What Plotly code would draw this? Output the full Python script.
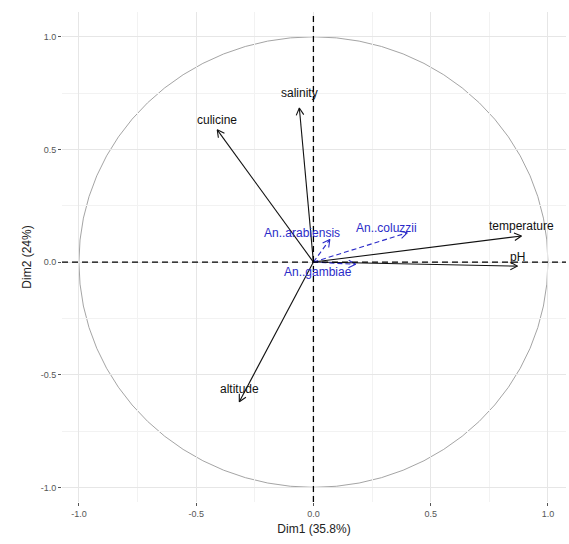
import numpy as np
import plotly.graph_objects as go

# Active variables
var_names = ["culicine", "salinity", "temperature", "pH", "altitude"]
var_dim1 = [-0.41, -0.06, 0.887, 0.87, -0.316]
var_dim2 = [0.587, 0.684, 0.116, -0.018, -0.62]

# Supplementary variables
sup_names = ["An..arabiensis", "An..coluzzii", "An..gambiae"]
sup_dim1 = [0.07, 0.40, 0.18]
sup_dim2 = [0.10, 0.13, -0.01]

x_title = "Dim1 (35.8%)"
y_title = "Dim2 (24%)"
tick_vals = [-1.0, -0.5, 0.0, 0.5, 1.0]
tick_text = ["-1.0", "-0.5", "0.0", "0.5", "1.0"]

XR = [-1.072, 1.077]
YR = [-1.065, 1.11]
W, H = 569, 544
ML, MR, MT, MB = 62, 3, 12, 42
pxx = (W - ML - MR) / (XR[1] - XR[0])
pxy = (H - MT - MB) / (YR[1] - YR[0])

fig = go.Figure()

def arrow(x, y, color, dash, width):
    fig.add_trace(go.Scatter(x=[0, x], y=[0, y], mode="lines",
                             line=dict(color=color, width=width, dash=dash),
                             hoverinfo="skip", showlegend=False))
    # open V arrowhead computed in pixel space
    ang = np.arctan2(y * pxy, x * pxx)
    L = 8
    wx, wy = [], []
    for s in (1, -1):
        a = ang + np.pi + s * np.radians(28)
        wx.append(x + L * np.cos(a) / pxx)
        wy.append(y + L * np.sin(a) / pxy)
    fig.add_trace(go.Scatter(x=[wx[0], x, wx[1]], y=[wy[0], y, wy[1]], mode="lines",
                             line=dict(color=color, width=width),
                             hoverinfo="skip", showlegend=False))

for n, x, y in zip(var_names, var_dim1, var_dim2):
    arrow(x, y, "#111111", "solid", 1.1)
for n, x, y in zip(sup_names, sup_dim1, sup_dim2):
    arrow(x, y, "#2b2bc8", "5px,3px", 1.1)

# labels
var_lab_off = {"culicine": (0, 0.045), "salinity": (0, 0.065), "temperature": (0, 0.045),
               "pH": (0, 0.04), "altitude": (0, 0.055)}
for n, x, y in zip(var_names, var_dim1, var_dim2):
    dx, dy = var_lab_off[n]
    fig.add_annotation(x=x + dx, y=y + dy, text=n, showarrow=False,
                       font=dict(family="Liberation Sans, Arial", size=12, color="#111111"))
sup_lab_pos = {"An..arabiensis": (-0.05, 0.13), "An..coluzzii": (0.31, 0.15), "An..gambiae": (0.02, -0.045)}
for n in sup_names:
    lx, ly = sup_lab_pos[n]
    fig.add_annotation(x=lx, y=ly, text=n, showarrow=False,
                       font=dict(family="Liberation Sans, Arial", size=12, color="#2b2bc8"))

shapes = [
    dict(type="circle", xref="x", yref="y", x0=-1, y0=-1, x1=1, y1=1,
         line=dict(color="#9a9a9a", width=0.9), layer="below"),
    dict(type="line", xref="paper", yref="y", x0=0, x1=1, y0=0, y1=0,
         line=dict(color="black", width=1.3, dash="6px,4px")),
    dict(type="line", xref="x", yref="paper", x0=0, x1=0, y0=0, y1=1,
         line=dict(color="black", width=1.3, dash="6px,4px")),
]

axis_common = dict(showgrid=True, gridcolor="#e6e6e6", gridwidth=1, zeroline=False,
                   showline=False, ticks="outside", ticklen=3, tickcolor="#555555",
                   tickvals=tick_vals, ticktext=tick_text,
                   tickfont=dict(family="Liberation Sans, Arial", size=9, color="#555555"),
                   minor=dict(dtick=0.25, showgrid=True, gridcolor="#f2f2f2", gridwidth=0.7, ticks=""))

fig.update_layout(
    width=W, height=H, margin=dict(l=ML, r=MR, t=MT, b=MB),
    paper_bgcolor="white", plot_bgcolor="white", shapes=shapes,
    xaxis=dict(range=XR, title=dict(text=x_title, standoff=6,
               font=dict(family="Liberation Sans, Arial", size=12, color="#222222")), **axis_common),
    yaxis=dict(range=YR, title=dict(text=y_title, standoff=6,
               font=dict(family="Liberation Sans, Arial", size=12, color="#222222")), **axis_common),
)
fig.write_html("out.html")
